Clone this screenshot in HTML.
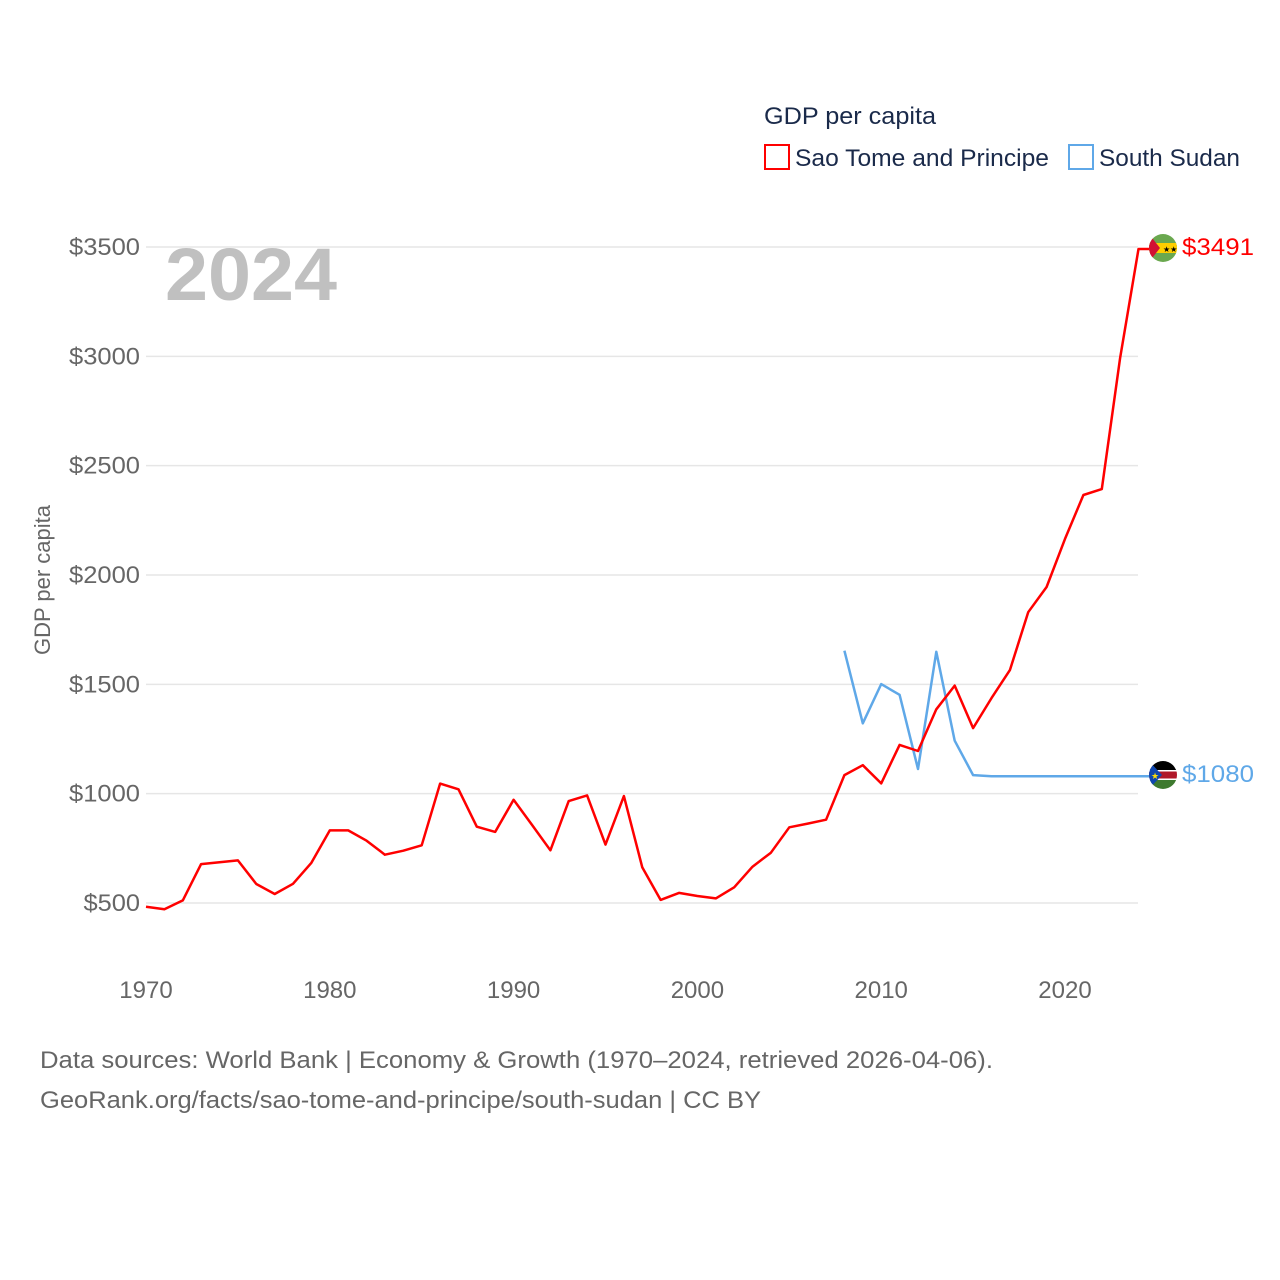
<!DOCTYPE html>
<html><head><meta charset="utf-8"><style>
html,body{margin:0;padding:0;background:#fff;}
svg{display:block;font-family:"Liberation Sans",sans-serif;}
</style></head><body>
<svg id="chart" width="1280" height="1280" viewBox="0 0 1280 1280">
<g id="grid"></g>
<g id="yticks"></g>
<g id="xticks"></g>
<text x="165" y="300" font-size="74" font-weight="bold" fill="#c0c0c0" textLength="172" lengthAdjust="spacingAndGlyphs">2024</text>
<text transform="translate(50,580) rotate(-90)" text-anchor="middle" font-size="22" fill="#666">GDP per capita</text>
<g id="series"></g>
<g>
<text x="764" y="124" font-size="24" fill="#1a2a4a" textLength="172" lengthAdjust="spacingAndGlyphs">GDP per capita</text>
<g><rect x="765" y="145" width="24" height="24" fill="none" stroke="#ff0000" stroke-width="2"/><text x="795" y="166" font-size="24" fill="#1a2a4a" textLength="254" lengthAdjust="spacingAndGlyphs">Sao Tome and Principe</text></g>
<g><rect x="1069" y="145" width="24" height="24" fill="none" stroke="#5fa8e8" stroke-width="2"/><text x="1099" y="166" font-size="24" fill="#1a2a4a" textLength="141" lengthAdjust="spacingAndGlyphs">South Sudan</text></g>
</g>
<defs>
<clipPath id="c1"><circle cx="1163" cy="248" r="14"/></clipPath>
<clipPath id="c2"><circle cx="1163" cy="775" r="14"/></clipPath>
</defs>
<g id="series-ends"></g>
<g clip-path="url(#c1)">
<rect x="1149" y="234" width="28" height="28" fill="#6aa84f"/>
<rect x="1149" y="243" width="28" height="10" fill="#ffce00"/>
<polygon points="1149,234 1160,248 1149,262" fill="#d21034"/>
<text x="1163" y="252" font-size="8" fill="#000">★★</text>
</g>
<g clip-path="url(#c2)">
<rect x="1149" y="761" width="28" height="9" fill="#000"/>
<rect x="1149" y="770" width="28" height="1.5" fill="#fff"/>
<rect x="1149" y="771.5" width="28" height="7" fill="#b0182a"/>
<rect x="1149" y="778.5" width="28" height="1.5" fill="#fff"/>
<rect x="1149" y="780" width="28" height="9" fill="#3e7a2f"/>
<polygon points="1149,761 1162,775 1149,789" fill="#0f47af"/>
<text x="1151" y="779" font-size="9" fill="#fcdd09">★</text>
</g>
<text x="1182" y="255" font-size="24" fill="#ff0000" textLength="72" lengthAdjust="spacingAndGlyphs">$3491</text>
<text x="1182" y="782" font-size="24" fill="#5fa8e8" textLength="72" lengthAdjust="spacingAndGlyphs">$1080</text>
<text x="40" y="1068" font-size="24" fill="#666" textLength="953" lengthAdjust="spacingAndGlyphs">Data sources: World Bank | Economy &amp; Growth (1970–2024, retrieved 2026-04-06).</text>
<text x="40" y="1108" font-size="24" fill="#666" textLength="721" lengthAdjust="spacingAndGlyphs">GeoRank.org/facts/sao-tome-and-principe/south-sudan | CC BY</text>
</svg>
<script>
const yearsSTP=[1970,1971,1972,1973,1974,1975,1976,1977,1978,1979,1980,1981,1982,1983,1984,1985,1986,1987,1988,1989,1990,1991,1992,1993,1994,1995,1996,1997,1998,1999,2000,2001,2002,2003,2004,2005,2006,2007,2008,2009,2010,2011,2012,2013,2014,2015,2016,2017,2018,2019,2020,2021,2022,2023,2024];
const valuesSTP=[483,471,512,678,686,695,587,541,588,684,832,832,785,721,739,764,1046,1020,849,825,972,857,741,966,992,767,989,663,514,546,532,521,572,666,730,846,863,881,1085,1130,1047,1223,1195,1386,1494,1300,1437,1565,1830,1945,2165,2366,2393,2992,3491];
const yearsSSD=[2008,2009,2010,2011,2012,2013,2014,2015,2016,2017,2018,2019,2020,2021,2022,2023,2024];
const valuesSSD=[1654,1322,1501,1452,1113,1649,1242,1085,1080,1080,1080,1080,1080,1080,1080,1080,1080];
const yTicks=[500,1000,1500,2000,2500,3000,3500];
const xTicks=[1970,1980,1990,2000,2010,2020];
const NS='http://www.w3.org/2000/svg';
function xs(y){return 146+(y-1970)*(1065-146)/50;}
function ys(v){return 903-(v-500)*(903-247)/3000;}
const grid=document.getElementById('grid'),yt=document.getElementById('yticks'),xt=document.getElementById('xticks'),ser=document.getElementById('series');
yTicks.forEach(t=>{
 const l=document.createElementNS(NS,'line');
 l.setAttribute('x1',146);l.setAttribute('x2',1138);l.setAttribute('y1',ys(t));l.setAttribute('y2',ys(t));
 l.setAttribute('stroke','#e6e6e6');l.setAttribute('stroke-width','1.5');
 
 
 grid.appendChild(l);
 const tx=document.createElementNS(NS,'text');
 tx.setAttribute('x',140);tx.setAttribute('y',ys(t)+8);tx.setAttribute('text-anchor','end');
 tx.setAttribute('font-size','24');tx.setAttribute('fill','#666');tx.textContent='$'+t;
 tx.setAttribute('textLength',String(t).length*14.5+13);
 tx.setAttribute('lengthAdjust','spacingAndGlyphs');
 
 
 yt.appendChild(tx);
});
xTicks.forEach(t=>{
 const tx=document.createElementNS(NS,'text');
 tx.setAttribute('x',xs(t));tx.setAttribute('y',998);tx.setAttribute('text-anchor','middle');
 tx.setAttribute('font-size','24');tx.setAttribute('fill','#666');tx.textContent=t;
 
 
 xt.appendChild(tx);
});
function line(xsA,vs,color,name){
 const p=document.createElementNS(NS,'polyline');
 const pts=xsA.map((y,i)=>xs(y).toFixed(1)+','+ys(vs[i]).toFixed(1));
 const last=vs[vs.length-1];
 pts.push('1149,'+ys(last).toFixed(1));
 p.setAttribute('points',pts.join(' '));
 p.setAttribute('fill','none');p.setAttribute('stroke',color);p.setAttribute('stroke-width','2.5');
 p.setAttribute('stroke-linejoin','round');
 
 
 ser.appendChild(p);
}
line(yearsSSD,valuesSSD,'#5fa8e8','line-south-sudan');
line(yearsSTP,valuesSTP,'#ff0000','line-sao-tome');
</script>
</body></html>
